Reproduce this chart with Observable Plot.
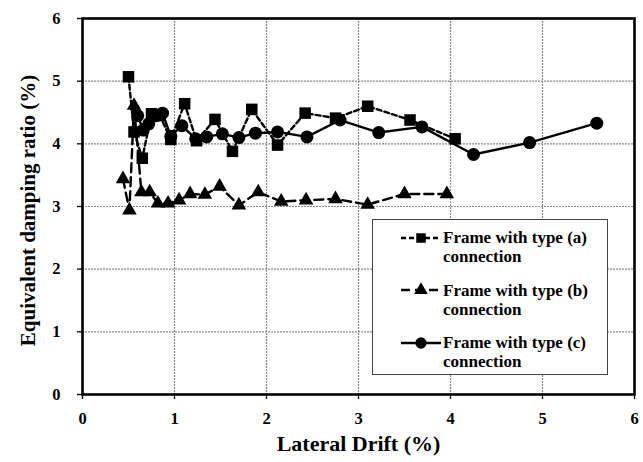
<!DOCTYPE html>
<html>
<head>
<meta charset="utf-8">
<script src="https://cdn.jsdelivr.net/npm/d3@7"></script>
<script src="https://cdn.jsdelivr.net/npm/@observablehq/plot@0.6"></script>
<style>
  html, body { margin: 0; padding: 0; background: #fff; }
  #wrap { position: relative; width: 643px; height: 462px; }
  #wrap svg text { font-family: "Liberation Serif", "Times New Roman", "DejaVu Serif", serif; }
  #legend {
    position: absolute; left: 372px; top: 219px; width: 236px; height: 156px;
    border: 1.5px solid #444; background: #fff; box-sizing: border-box;
    font-family: "Liberation Serif", "Times New Roman", "DejaVu Serif", serif; font-weight: bold;
    font-size: 17px; line-height: 19px; color: #000;
  }
  .item { position: absolute; left: 0; }
  .item svg { position: absolute; left: 26px; top: 1.5px; }
  .item span { position: absolute; left: 70px; white-space: nowrap; }
</style>
</head>
<body>
<div id="wrap"></div>
<script>
// Lateral drift (%) vs. equivalent damping ratio (%) for three frames
const seriesNames = ["Frame with type (a)", "Frame with type (b)", "Frame with type (c)"];

const driftA = [0.50, 0.56, 0.65, 0.75, 0.84, 0.96, 1.11, 1.24, 1.44, 1.63, 1.84, 2.12, 2.42, 2.75, 3.10, 3.56, 4.05];
const dampA  = [5.07, 4.19, 3.77, 4.48, 4.45, 4.07, 4.64, 4.05, 4.39, 3.88, 4.55, 3.98, 4.49, 4.41, 4.60, 4.38, 4.08];

const driftB = [0.44, 0.51, 0.56, 0.64, 0.73, 0.82, 0.93, 1.05, 1.17, 1.33, 1.49, 1.70, 1.91, 2.16, 2.43, 2.75, 3.10, 3.50, 3.96];
const dampB  = [3.44, 2.94, 4.61, 3.23, 3.23, 3.05, 3.05, 3.10, 3.20, 3.19, 3.32, 3.02, 3.23, 3.08, 3.10, 3.12, 3.03, 3.20, 3.20];

const driftC = [0.60, 0.66, 0.72, 0.80, 0.87, 0.96, 1.08, 1.23, 1.35, 1.52, 1.70, 1.88, 2.12, 2.44, 2.80, 3.22, 3.69, 4.25, 4.86, 5.59];
const dampC  = [4.45, 4.22, 4.32, 4.45, 4.49, 4.12, 4.29, 4.08, 4.11, 4.16, 4.10, 4.17, 4.19, 4.11, 4.38, 4.18, 4.27, 3.83, 4.02, 4.33];

const xTicks = [0, 1, 2, 3, 4, 5, 6];
const yTicks = [0, 1, 2, 3, 4, 5, 6];

const toRows = (xs, ys) => xs.map((x, i) => ({x, y: ys[i]}));
const rowsA = toRows(driftA, dampA);
const rowsB = toRows(driftB, dampB);
const rowsC = toRows(driftC, dampC);

const serif = "'Liberation Serif', 'Times New Roman', 'DejaVu Serif', serif";
const fmt = d => String(d);

const chart = Plot.plot({
  width: 643,
  height: 462,
  marginLeft: 82,
  marginRight: 9,
  marginTop: 18,
  marginBottom: 68,
  style: {fontFamily: serif, background: "#fff"},
  x: {domain: [0, 6]},
  y: {domain: [0, 6]},
  marks: [
    Plot.gridX(xTicks, {stroke: "#8a8a8a", strokeOpacity: 1, strokeWidth: 1.2, strokeDasharray: "2,1"}),
    Plot.gridY(yTicks, {stroke: "#8a8a8a", strokeOpacity: 1, strokeWidth: 1.2, strokeDasharray: "2,1"}),
    Plot.axisX(xTicks, {tickSize: 5, tickPadding: 13, tickFormat: fmt, fontSize: 16.5, fontWeight: "bold", label: null, stroke: "#000", strokeWidth: 1.3}),
    Plot.axisY(yTicks, {tickSize: 5, tickPadding: 17, tickFormat: fmt, fontSize: 16.5, fontWeight: "bold", label: null, stroke: "#000", strokeWidth: 1.3}),
    Plot.frame({stroke: "#000", strokeWidth: 2.6}),
    Plot.line(rowsA, {x: "x", y: "y", stroke: "#000", strokeWidth: 2.4, strokeDasharray: "5,3"}),
    Plot.line(rowsB, {x: "x", y: "y", stroke: "#000", strokeWidth: 2.4, strokeDasharray: "9,5"}),
    Plot.line(rowsC, {x: "x", y: "y", stroke: "#000", strokeWidth: 2.4}),
    Plot.dot(rowsA, {x: "x", y: "y", symbol: "square", r: 6.5, fill: "#000"}),
    Plot.dot(rowsB, {x: "x", y: "y", symbol: "triangle", r: 5.4, fill: "#000"}),
    Plot.dot(rowsC, {x: "x", y: "y", symbol: "circle", r: 6.5, fill: "#000"}),
    Plot.text(["Lateral Drift (%)"], {frameAnchor: "bottom", dy: 56, textAnchor: "middle", fontSize: 22, fontWeight: "bold", fill: "#000"}),
    Plot.text(["Equivalent damping ratio (%)"], {frameAnchor: "left", dx: -54, dy: 4, rotate: -90, textAnchor: "middle", fontSize: 21, fontWeight: "bold", fill: "#000"})
  ]
});

const wrap = document.getElementById("wrap");
wrap.appendChild(chart);

// Legend box drawn over the plot area
const legendStyles = [
  {symbol: d3.symbolSquare, size: 90, dash: "5,3"},
  {symbol: d3.symbolTriangle, size: 80, dash: "9,5"},
  {symbol: d3.symbolCircle, size: 100, dash: null}
];
const legend = document.createElement("div");
legend.id = "legend";
seriesNames.forEach((name, i) => {
  const st = legendStyles[i];
  const item = document.createElement("div");
  item.className = "item";
  item.style.top = (8 + i * 52.5) + "px";
  const svg = d3.create("svg").attr("width", 44).attr("height", 16);
  svg.append("line").attr("x1", 2).attr("x2", 42).attr("y1", 8).attr("y2", 8)
    .attr("stroke", "#000").attr("stroke-width", 2.4)
    .attr("stroke-dasharray", st.dash);
  svg.append("path").attr("transform", "translate(22,8)")
    .attr("d", d3.symbol(st.symbol, st.size)()).attr("fill", "#000");
  item.appendChild(svg.node());
  const span = document.createElement("span");
  span.innerHTML = name + "<br>connection";
  item.appendChild(span);
  legend.appendChild(item);
});
wrap.appendChild(legend);
</script>
</body>
</html>
